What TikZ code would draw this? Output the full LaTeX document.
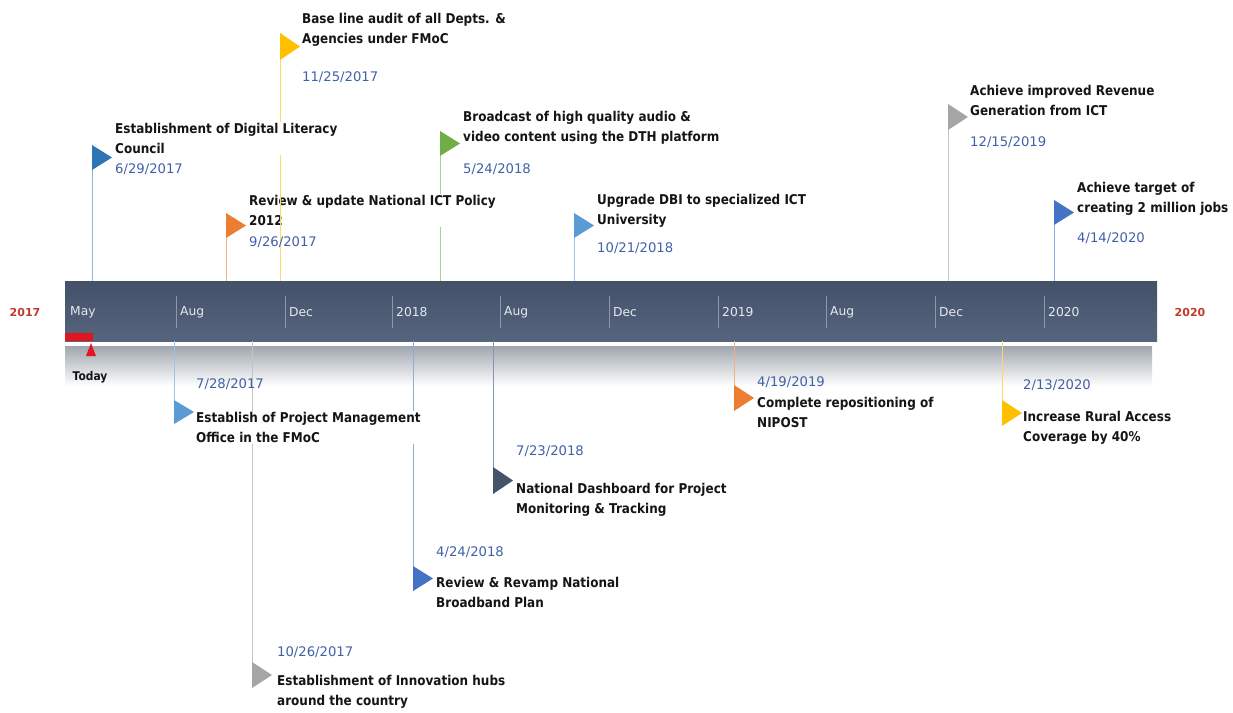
\documentclass[tikz,border=0pt]{standalone}
\usepackage{fontspec}
\newfontfamily\tfont[FakeStretch=0.89]{DejaVu Sans}
\newfontfamily\dfont{DejaVu Sans}
\definecolor{bandtop}{HTML}{435169}
\definecolor{bandbot}{HTML}{56657E}
\definecolor{shadowcol}{HTML}{A0A6AF}
\definecolor{sepcol}{HTML}{8D99AB}
\definecolor{monthcol}{HTML}{E6E9EF}
\definecolor{yearcol}{HTML}{C0392B}
\definecolor{todaycol}{HTML}{E0161E}
\definecolor{datecol}{HTML}{4060A8}
\definecolor{titlecol}{HTML}{151515}
\definecolor{fBlueD}{HTML}{2E75B6}\definecolor{pBlueD}{HTML}{8DB8E2}
\definecolor{fOrange}{HTML}{ED7D31}\definecolor{pOrange}{HTML}{F4B183}
\definecolor{fYellow}{HTML}{FFC000}\definecolor{pYellow}{HTML}{FFD966}
\definecolor{fGreen}{HTML}{70AD47}\definecolor{pGreen}{HTML}{A9D18E}
\definecolor{fLBlue}{HTML}{5B9BD5}\definecolor{pLBlue}{HTML}{9DC3E6}
\definecolor{fGray}{HTML}{A5A5A5}\definecolor{pGray}{HTML}{C4C4C4}
\definecolor{fBlue}{HTML}{4472C4}\definecolor{pBlue}{HTML}{8FAADC}
\definecolor{fSlate}{HTML}{44546A}\definecolor{pSlate}{HTML}{8497B0}
\begin{document}
\begin{tikzpicture}[x=1pt,y=-1pt,
  title/.style={font=\tfont\bfseries\fontsize{13.5}{20.5}\selectfont, align=left, anchor=north west, inner sep=1pt, fill=white, text=titlecol},
  datelab/.style={font=\dfont\fontsize{13.2}{15}\selectfont, text=datecol, anchor=west, inner sep=0pt},
  monthlab/.style={font=\dfont\fontsize{12.3}{14}\selectfont, text=monthcol, anchor=west, inner sep=0pt},
  yearlab/.style={font=\dfont\bfseries\fontsize{11}{13}\selectfont, text=yearcol, anchor=center, inner sep=0pt},
  pole/.style={line width=1pt},
  sepline/.style={draw=sepcol, line width=0.8pt},
]
\useasboundingbox (0,0) rectangle (1233,712);

% timeline band
\node[minimum width=1087pt, minimum height=40pt, inner sep=0pt, top color=shadowcol, bottom color=white] (shadow) at (608.5,366) {};
\node[minimum width=1092pt, minimum height=60pt, inner sep=0pt, top color=bandtop, bottom color=bandbot] (band) at (611,311) {};
\foreach \x in {176,285,392,500,609,718,826,935,1044} \draw[sepline] (\x,296) -- (\x,328);

\node[monthlab] (m1) at (70,312) {May};
\node[monthlab] (m2) at (180,312) {Aug};
\node[monthlab] (m3) at (289,312) {Dec};
\node[monthlab] (m4) at (396,312) {2018};
\node[monthlab] (m5) at (504,312) {Aug};
\node[monthlab] (m6) at (613,312) {Dec};
\node[monthlab] (m7) at (722,312) {2019};
\node[monthlab] (m8) at (830,312) {Aug};
\node[monthlab] (m9) at (939,312) {Dec};
\node[monthlab] (m10) at (1048,312) {2020};

\node[yearlab] (ystart) at (25,312) {2017};
\node[yearlab] (yend) at (1190,312) {2020};

% today marker
\fill[todaycol] (65,333) rectangle (93,341);
\fill[todaycol] (91,343) -- (96,356) -- (86,356) -- cycle;
\node[font=\tfont\bfseries\fontsize{12}{13}\selectfont, text=titlecol, inner sep=0pt] (today) at (90,377) {Today};

% flags above
\coordinate (p1) at (92,145);
\coordinate (p2) at (226,213);
\coordinate (p3) at (280,33);
\coordinate (p4) at (440,131);
\coordinate (p5) at (574,213);
\coordinate (p6) at (948,104);
\coordinate (p7) at (1054,200);
% flags below (bottom of flag)
\coordinate (q8) at (174,424);
\coordinate (q9) at (252,688);
\coordinate (q10) at (413,591);
\coordinate (q11) at (493,494);
\coordinate (q12) at (734,411);
\coordinate (q13) at (1002,426);

\draw[pole, pBlueD] (p1) -- (p1 |- band.north);
\fill[fBlueD] (p1) -- ++(20,12.5) -- ++(-20,12.5) -- cycle;
\draw[pole, pOrange] (p2) -- (p2 |- band.north);
\fill[fOrange] (p2) -- ++(20,12.5) -- ++(-20,12.5) -- cycle;
\draw[pole, pGreen] (p4) -- (p4 |- band.north);
\fill[fGreen] (p4) -- ++(20,12.5) -- ++(-20,12.5) -- cycle;
\draw[pole, pLBlue] (p5) -- (p5 |- band.north);
\fill[fLBlue] (p5) -- ++(20,12.5) -- ++(-20,12.5) -- cycle;
\draw[pole, pGray] (p6) -- (p6 |- band.north);
\fill[fGray] (p6) -- ++(20,13) -- ++(-20,13) -- cycle;
\draw[pole, pBlue] (p7) -- (p7 |- band.north);
\fill[fBlue] (p7) -- ++(20,12.5) -- ++(-20,12.5) -- cycle;

\draw[pole, pLBlue] (band.south -| q8) -- (q8);
\fill[fLBlue] (q8) -- ++(20,-12) -- ++(-20,-12) -- cycle;
\draw[pole, pGray] (band.south -| q9) -- (q9);
\fill[fGray] (q9) -- ++(20,-13) -- ++(-20,-13) -- cycle;
\draw[pole, pBlue] (band.south -| q10) -- (q10);
\fill[fBlue] (q10) -- ++(20,-12.5) -- ++(-20,-12.5) -- cycle;
\draw[pole, pSlate] (band.south -| q11) -- (q11);
\fill[fSlate] (q11) -- ++(20,-13.5) -- ++(-20,-13.5) -- cycle;
\draw[pole, pOrange] (band.south -| q12) -- (q12);
\fill[fOrange] (q12) -- ++(20,-13) -- ++(-20,-13) -- cycle;
\draw[pole, pYellow] (band.south -| q13) -- (q13);
\fill[fYellow] (q13) -- ++(20,-13) -- ++(-20,-13) -- cycle;

% labels
\node[title] (t2) at (248,194) {Review \& update National ICT Policy\\2012};
\draw[pole, pYellow] (p3) -- (p3 |- band.north);
\fill[fYellow] (p3) -- ++(20,13.5) -- ++(-20,13.5) -- cycle;

\node[title] (t1) at (114,122) {Establishment of Digital Literacy\\Council};
\node[title] (t3) at (301,12) {Base line audit of all Depts. \&\\Agencies under FMoC};
\node[title] (t4) at (462,110) {Broadcast of high quality audio \&\\video content using the DTH platform};
\node[title] (t5) at (596,193) {Upgrade DBI to specialized ICT\\University};
\node[title] (t6) at (969,84) {Achieve improved Revenue\\Generation from ICT};
\node[title] (t7) at (1076,181) {Achieve target of\\creating 2 million jobs};
\node[title] (t8) at (195,411) {Establish of Project Management\\Office in the FMoC};
\node[title] (t9) at (276,674) {Establishment of Innovation hubs\\around the country};
\node[title] (t10) at (435,576) {Review \& Revamp National\\Broadband Plan};
\node[title] (t11) at (515,482) {National Dashboard for Project\\Monitoring \& Tracking};
\node[title] (t12) at (756,396) {Complete repositioning of\\NIPOST};
\node[title] (t13) at (1022,410) {Increase Rural Access\\Coverage by 40\%};

\node[datelab] (d1) at (115,169) {6/29/2017};
\node[datelab] (d2) at (249,242) {9/26/2017};
\node[datelab] (d3) at (302,77) {11/25/2017};
\node[datelab] (d4) at (463,169) {5/24/2018};
\node[datelab] (d5) at (597,248) {10/21/2018};
\node[datelab] (d6) at (970,142) {12/15/2019};
\node[datelab] (d7) at (1077,238) {4/14/2020};
\node[datelab] (d8) at (196,384) {7/28/2017};
\node[datelab] (d9) at (277,652) {10/26/2017};
\node[datelab] (d10) at (436,552) {4/24/2018};
\node[datelab] (d11) at (516,451) {7/23/2018};
\node[datelab] (d12) at (757,382) {4/19/2019};
\node[datelab] (d13) at (1023,385) {2/13/2020};
\end{tikzpicture}
\end{document}
